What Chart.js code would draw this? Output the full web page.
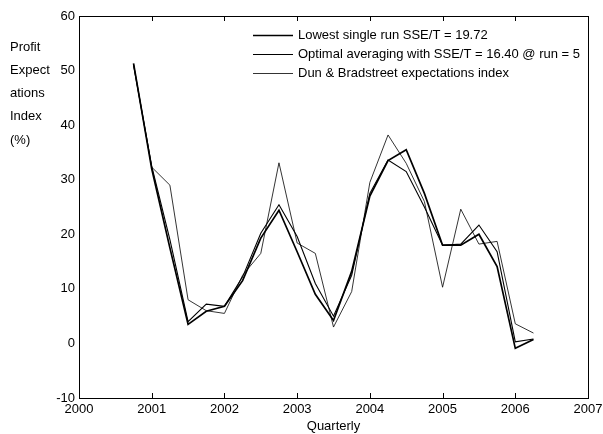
<!DOCTYPE html>
<html>
<head>
<meta charset="utf-8">
<script src="https://cdn.jsdelivr.net/npm/chart.js@4/dist/chart.umd.min.js"></script>
<style>
html, body { margin: 0; padding: 0; background: #fff; }
</style>
</head>
<body>
<canvas id="chart" width="603" height="434"></canvas>
<script>
// Quarterly observations, Q4 2000 .. Q2 2006
const quarters = [2000.75, 2001, 2001.25, 2001.5, 2001.75, 2002, 2002.25, 2002.5, 2002.75,
    2003, 2003.25, 2003.5, 2003.75, 2004, 2004.25, 2004.5, 2004.75,
    2005, 2005.25, 2005.5, 2005.75, 2006, 2006.25];

const lowestRun = [51.3, 32.0, 17.5, 3.5, 5.9, 6.8, 11.5, 19.3, 24.4,
    16.8, 9.0, 4.2, 13.2, 27.0, 33.5, 35.5, 27.5,
    18.0, 18.0, 20.0, 14.1, -0.9, 0.7];

const optimalAvg = [51.0, 32.5, 19.0, 4.0, 7.2, 6.8, 12.2, 20.2, 25.4,
    19.6, 11.0, 5.0, 12.5, 27.5, 33.6, 31.5, 25.0,
    18.0, 18.2, 21.7, 16.8, 0.3, 0.8];

const dunBradstreet = [51.2, 32.3, 29.0, 8.0, 6.0, 5.5, 12.5, 16.5, 33.1,
    18.4, 16.5, 3.0, 9.5, 29.5, 38.2, 33.0, 26.0,
    10.3, 24.6, 18.2, 18.7, 3.6, 1.9];

const seriesLabels = [
    'Lowest single run SSE/T = 19.72',
    'Optimal averaging with SSE/T = 16.40 @ run = 5',
    'Dun & Bradstreet expectations index'
];
const seriesWidths = [1.7, 1.1, 0.8];

const yAxisLines = ['Profit', 'Expect', 'ations', 'Index', '(%)'];
const xTitle = 'Quarterly';

const FONT = 'Liberation Sans, Arial, Helvetica, sans-serif';

function toPoints(values) {
    return values.map((v, i) => ({ x: quarters[i], y: v }));
}

// frame around the plot + matlab style inward ticks on top and bottom
const framePlugin = {
    id: 'frame',
    afterDraw(chart) {
        const ctx = chart.ctx;
        const a = chart.chartArea;
        const xs = chart.scales.x;
        ctx.save();
        ctx.strokeStyle = '#000';
        ctx.lineWidth = 1;
        ctx.strokeRect(a.left + 0.5, a.top + 0.5, a.right - a.left, a.bottom - a.top);
        ctx.beginPath();
        for (const t of xs.ticks) {
            const px = Math.round(xs.getPixelForValue(t.value)) + 0.5;
            ctx.moveTo(px, a.bottom);
            ctx.lineTo(px, a.bottom - 5);
            ctx.moveTo(px, a.top);
            ctx.lineTo(px, a.top + 5);
        }
        ctx.stroke();
        ctx.restore();
    }
};

// horizontal y label on the left, and the legend inside the plot
const textPlugin = {
    id: 'texts',
    afterDraw(chart) {
        const ctx = chart.ctx;
        const a = chart.chartArea;
        ctx.save();
        ctx.fillStyle = '#000';
        ctx.font = '13px ' + FONT;
        ctx.textBaseline = 'middle';
        ctx.textAlign = 'left';
        yAxisLines.forEach((line, i) => {
            ctx.fillText(line, 10, 47 + i * 23.3);
        });

        // legend
        const lx = a.left + 174;
        chart.data.datasets.forEach((ds, i) => {
            const y = a.top + 19 + i * 19;
            ctx.beginPath();
            ctx.strokeStyle = '#000';
            ctx.lineWidth = ds.borderWidth;
            ctx.moveTo(lx, y + 0.5);
            ctx.lineTo(lx + 40, y + 0.5);
            ctx.stroke();
            ctx.fillText(ds.label, lx + 45, y);
        });
        ctx.restore();
    }
};

new Chart(document.getElementById('chart'), {
    type: 'line',
    data: {
        datasets: [
            { label: seriesLabels[0], data: toPoints(lowestRun), borderWidth: seriesWidths[0] },
            { label: seriesLabels[1], data: toPoints(optimalAvg), borderWidth: seriesWidths[1] },
            { label: seriesLabels[2], data: toPoints(dunBradstreet), borderWidth: seriesWidths[2] }
        ].map(ds => Object.assign(ds, {
            borderColor: '#000',
            backgroundColor: '#000',
            pointRadius: 0,
            tension: 0,
            fill: false
        }))
    },
    options: {
        responsive: false,
        animation: false,
        layout: { padding: { left: 0, right: 15, top: 16, bottom: 0 } },
        scales: {
            x: {
                type: 'linear',
                min: 2000,
                max: 2007,
                ticks: {
                    stepSize: 1,
                    color: '#000',
                    padding: 4,
                    font: { family: FONT, size: 13 },
                    callback: v => String(v)
                },
                grid: { display: false, drawTicks: false },
                border: { display: false },
                title: {
                    display: true,
                    text: xTitle,
                    color: '#000',
                    padding: { top: 0, bottom: 0 },
                    font: { family: FONT, size: 13 }
                },
                afterFit(scale) {
                    scale.height = 36;
                    scale.paddingLeft = 0;
                    scale.paddingRight = 0;
                }
            },
            y: {
                min: -10,
                max: 60,
                ticks: {
                    stepSize: 10,
                    color: '#000',
                    padding: 4,
                    font: { family: FONT, size: 13 }
                },
                grid: { display: false, drawTicks: false },
                border: { display: false },
                afterFit(scale) { scale.width = 79; }
            }
        },
        plugins: {
            legend: { display: false },
            tooltip: { enabled: false }
        }
    },
    plugins: [framePlugin, textPlugin]
});
</script>
</body>
</html>
